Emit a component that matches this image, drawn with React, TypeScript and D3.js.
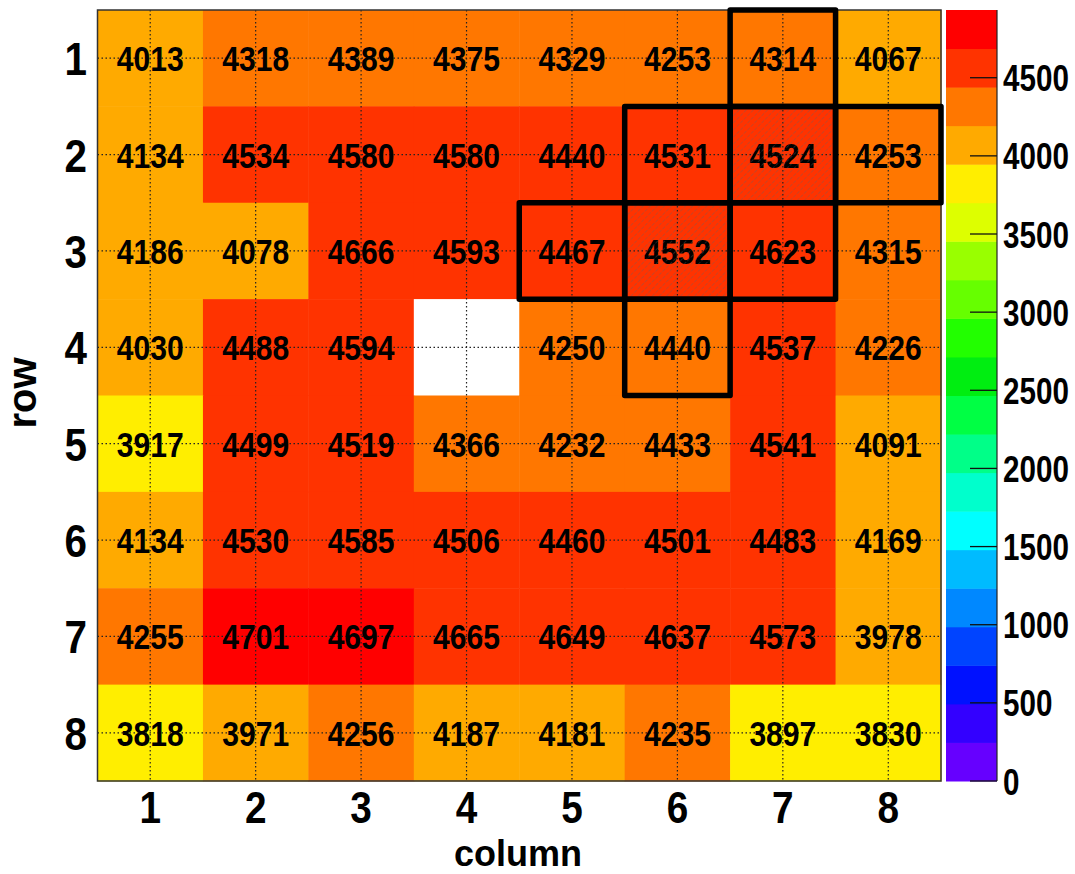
import React from "react";
import * as d3 from "d3";

const rows = [1, 2, 3, 4, 5, 6, 7, 8];
const columns = [1, 2, 3, 4, 5, 6, 7, 8];
const rowValues: (number | null)[][] = [
  [4013, 4318, 4389, 4375, 4329, 4253, 4314, 4067],
  [4134, 4534, 4580, 4580, 4440.4, 4531, 4524, 4253],
  [4186, 4078, 4666, 4593, 4467, 4552, 4623, 4315],
  [4030, 4488, 4594, null, 4250, 4439.6, 4537, 4226],
  [3917, 4499, 4519, 4366, 4232, 4433, 4541, 4091],
  [4134, 4530, 4585, 4506, 4460, 4501, 4483, 4169],
  [4255, 4701, 4697, 4665, 4649, 4637, 4573, 3978],
  [3818, 3971, 4256, 4187, 4181, 4235, 3897, 3830],
];
const hatchedCells = [
  [2, 7],
  [3, 6],
];
const boxedCells = [
  [1, 7],
  [2, 6],
  [2, 7],
  [2, 8],
  [3, 5],
  [3, 6],
  [3, 7],
  [4, 6],
];
const zMin = 0;
const zMax = 4933.3;
const nLevels = 20;
const paletteColors = [
  "#6600ff", "#3300ff", "#0011ff", "#0044ff", "#0088ff",
  "#00bbff", "#00ffff", "#00ffcc", "#00ff88", "#00ff44",
  "#00ee11", "#22ff00", "#66ff00", "#99ff00", "#ddff00",
  "#ffee00", "#ffaa00", "#ff7700", "#ff3300", "#ff0000",
];
const colorTicks = [0, 500, 1000, 1500, 2000, 2500, 3000, 3500, 4000, 4500];

const FONT = "'Liberation Sans', Arial, Helvetica, sans-serif";

export default function App() {
  const plot = { left: 97.5, right: 941, top: 10, bottom: 781 };
  const x = d3.scaleBand<number>().domain(columns).range([plot.left, plot.right]);
  const y = d3.scaleBand<number>().domain(rows).range([plot.top, plot.bottom]);
  const levels = d3.range(1, nLevels).map((i) => zMin + (i * (zMax - zMin)) / nLevels);
  const color = d3.scaleThreshold<number, string>().domain(levels).range(paletteColors);
  const zScale = d3.scaleLinear().domain([zMin, zMax]).range([plot.bottom, plot.top]);
  const bar = { left: 946, right: 997 };
  const fmt = d3.format(".0f");

  const cells: { r: number; c: number; v: number | null }[] = [];
  rows.forEach((r, i) => columns.forEach((c, j) => cells.push({ r, c, v: rowValues[i][j] })));

  const bandEdges = [zMin, ...levels, zMax];

  return (
    <svg
      width={1075}
      height={874}
      style={{ position: "absolute", left: 0, top: 0, background: "#fff" }}
      fontFamily={FONT}
    >
      <defs>
        <pattern id="hatch" width={5} height={5} patternUnits="userSpaceOnUse" patternTransform="rotate(45)">
          <line x1={0} y1={0} x2={0} y2={5} stroke="rgba(100,100,100,0.7)" strokeWidth={1} strokeDasharray="3.5,1.5" />
        </pattern>
      </defs>
      {/* cells */}
      {cells.map((d) => (
        <rect
          key={`c${d.r}-${d.c}`}
          x={x(d.c)}
          y={y(d.r)}
          width={x.bandwidth() + 0.5}
          height={y.bandwidth() + 0.5}
          fill={d.v == null ? "#ffffff" : color(d.v)}
        />
      ))}
      {/* grid */}
      {columns.map((c) => (
        <line
          key={`gx${c}`}
          x1={x(c)! + x.bandwidth() / 2}
          x2={x(c)! + x.bandwidth() / 2}
          y1={plot.top}
          y2={plot.bottom}
          stroke="#222"
          strokeWidth={1.2}
          strokeDasharray="1.5,2.5"
        />
      ))}
      {rows.map((r) => (
        <line
          key={`gy${r}`}
          y1={y(r)! + y.bandwidth() / 2}
          y2={y(r)! + y.bandwidth() / 2}
          x1={plot.left}
          x2={plot.right}
          stroke="#222"
          strokeWidth={1.2}
          strokeDasharray="1.5,2.5"
        />
      ))}
      {/* cell texts */}
      {cells
        .filter((d) => d.v != null)
        .map((d) => (
          <text
            key={`t${d.r}-${d.c}`}
            transform={`translate(${x(d.c)! + x.bandwidth() / 2},${y(d.r)! + y.bandwidth() / 2 + 13}) scale(0.86,1)`}
            textAnchor="middle"
            fontSize={35}
            fontWeight="bold"
            fill="#000"
          >
            {fmt(d.v as number)}
          </text>
        ))}
      {/* hatched cells */}
      {hatchedCells.map(([r, c]) => (
        <rect
          key={`h${r}-${c}`}
          x={x(c)}
          y={y(r)}
          width={x.bandwidth()}
          height={y.bandwidth()}
          fill="url(#hatch)"
        />
      ))}
      {/* frame */}
      <rect
        x={plot.left}
        y={plot.top}
        width={plot.right - plot.left}
        height={plot.bottom - plot.top}
        fill="none"
        stroke="#333"
        strokeWidth={1.5}
      />
      {/* boxes */}
      {boxedCells.map(([r, c]) => (
        <rect
          key={`b${r}-${c}`}
          x={x(c)}
          y={y(r)}
          width={x.bandwidth()}
          height={y.bandwidth()}
          fill="none"
          stroke="#000"
          strokeWidth={5.5}
          strokeLinejoin="round"
        />
      ))}
      {/* x tick labels */}
      {columns.map((c) => (
        <text
          key={`xl${c}`}
          transform={`translate(${x(c)! + x.bandwidth() / 2},823) scale(0.88,1)`}
          textAnchor="middle"
          fontSize={44}
          fontWeight="bold"
        >
          {c}
        </text>
      ))}
      {/* y tick labels */}
      {rows.map((r) => (
        <text
          key={`yl${r}`}
          transform={`translate(87,${y(r)! + y.bandwidth() / 2 + 17}) scale(0.86,1)`}
          textAnchor="end"
          fontSize={47}
          fontWeight="bold"
        >
          {r}
        </text>
      ))}
      {/* axis titles */}
      <text x={518} y={866} textAnchor="middle" fontSize={36} fontWeight="bold">
        column
      </text>
      <text transform="translate(36,393) rotate(-90)" textAnchor="middle" fontSize={40} fontWeight="bold">
        row
      </text>
      {/* color bar */}
      {paletteColors.map((col, i) => (
        <rect
          key={`cb${i}`}
          x={bar.left}
          y={zScale(bandEdges[i + 1])}
          width={bar.right - bar.left}
          height={zScale(bandEdges[i]) - zScale(bandEdges[i + 1]) + 0.5}
          fill={col}
        />
      ))}
      <line x1={bar.right} x2={bar.right} y1={plot.top} y2={plot.bottom} stroke="#222" strokeWidth={1.2} />
      {colorTicks.map((t) => (
        <g key={`ct${t}`}>
          <line x1={bar.right - 27} x2={bar.right} y1={zScale(t)} y2={zScale(t)} stroke="#111" strokeWidth={1.3} />
          <text
            transform={`translate(1003,${zScale(t) + 13.5}) scale(0.8,1)`}
            fontSize={37}
            fontWeight="bold"
          >
            {t}
          </text>
        </g>
      ))}
    </svg>
  );
}
